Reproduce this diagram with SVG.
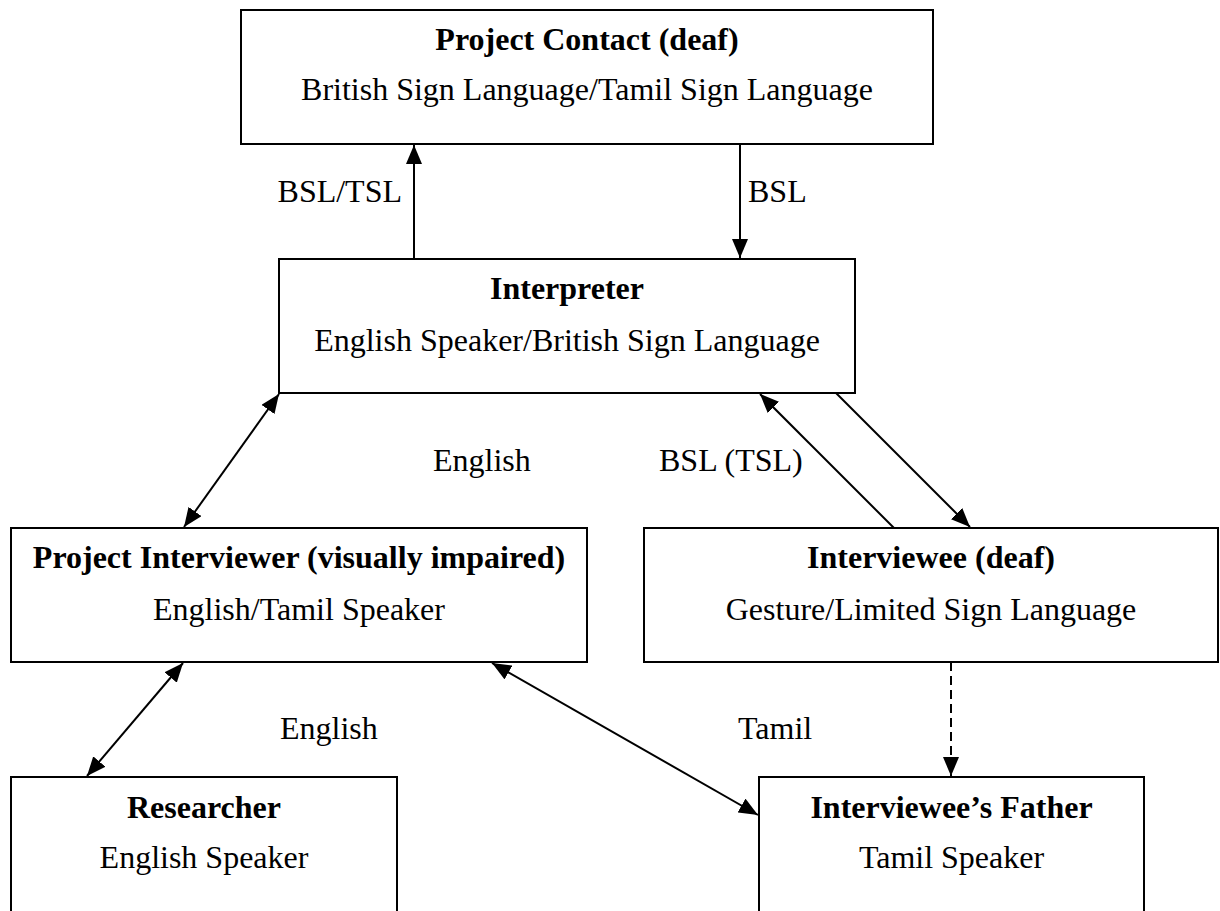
<svg xmlns="http://www.w3.org/2000/svg" width="1220" height="911" viewBox="0 0 1220 911">
<style>
  .box { fill: #fff; stroke: #000; stroke-width: 2; }
  .t { font-family: "Liberation Serif", "Times New Roman", serif; font-size: 32px; fill: #000; }
  .b { font-weight: bold; }
  .c { text-anchor: middle; }
  .ln { stroke: #000; stroke-width: 2; fill: none; }
  .dash { stroke-dasharray: 9 5; }
</style>
<defs>
  <marker id="ah" markerUnits="userSpaceOnUse" markerWidth="20" markerHeight="16" refX="19" refY="8" orient="auto-start-reverse">
    <path d="M0,0 L19,8 L0,16 z" fill="#000"/>
  </marker>
</defs>
<rect width="1220" height="911" fill="#fff"/>

<g id="project-contact">
  <rect class="box" x="241" y="10" width="692" height="134"/>
  <text class="t b c" x="587" y="50">Project Contact (deaf)</text>
  <text class="t c" x="587" y="100">British Sign Language/Tamil Sign Language</text>
</g>
<g id="interpreter">
  <rect class="box" x="279" y="259" width="576" height="134"/>
  <text class="t b c" x="567" y="299">Interpreter</text>
  <text class="t c" x="567" y="351">English Speaker/British Sign Language</text>
</g>
<g id="project-interviewer">
  <rect class="box" x="11" y="528" width="576" height="134"/>
  <text class="t b c" x="299" y="568">Project Interviewer (visually impaired)</text>
  <text class="t c" x="299" y="620">English/Tamil Speaker</text>
</g>
<g id="interviewee">
  <rect class="box" x="644" y="528" width="574" height="134"/>
  <text class="t b c" x="931" y="568">Interviewee (deaf)</text>
  <text class="t c" x="931" y="620">Gesture/Limited Sign Language</text>
</g>
<g id="researcher">
  <rect class="box" x="11" y="777" width="386" height="180"/>
  <text class="t b c" x="204" y="818">Researcher</text>
  <text class="t c" x="204" y="868">English Speaker</text>
</g>
<g id="father">
  <rect class="box" x="759" y="777" width="385" height="180"/>
  <text class="t b c" x="951.5" y="818">Interviewee’s Father</text>
  <text class="t c" x="951.5" y="868">Tamil Speaker</text>
</g>

<g id="connectors">
  <line class="ln" x1="414" y1="259" x2="414" y2="145" marker-end="url(#ah)"/>
  <line class="ln" x1="740" y1="144" x2="740" y2="258" marker-end="url(#ah)"/>
  <line class="ln" x1="279" y1="394" x2="184" y2="527" marker-start="url(#ah)" marker-end="url(#ah)"/>
  <line class="ln" x1="894" y1="528" x2="760" y2="394" marker-end="url(#ah)"/>
  <line class="ln" x1="836" y1="393" x2="970" y2="527" marker-end="url(#ah)"/>
  <line class="ln dash" x1="951" y1="662" x2="951" y2="776" marker-end="url(#ah)"/>
  <line class="ln" x1="183" y1="663" x2="87" y2="776" marker-start="url(#ah)" marker-end="url(#ah)"/>
  <line class="ln" x1="492" y1="663" x2="758" y2="815" marker-start="url(#ah)" marker-end="url(#ah)"/>
  <text class="t" x="402" y="202" text-anchor="end">BSL/TSL</text>
  <text class="t" x="748" y="202">BSL</text>
  <text class="t" x="433" y="471">English</text>
  <text class="t" x="659" y="471">BSL (TSL)</text>
  <text class="t" x="280" y="739">English</text>
  <text class="t" x="738" y="739">Tamil</text>
</g>
</svg>
